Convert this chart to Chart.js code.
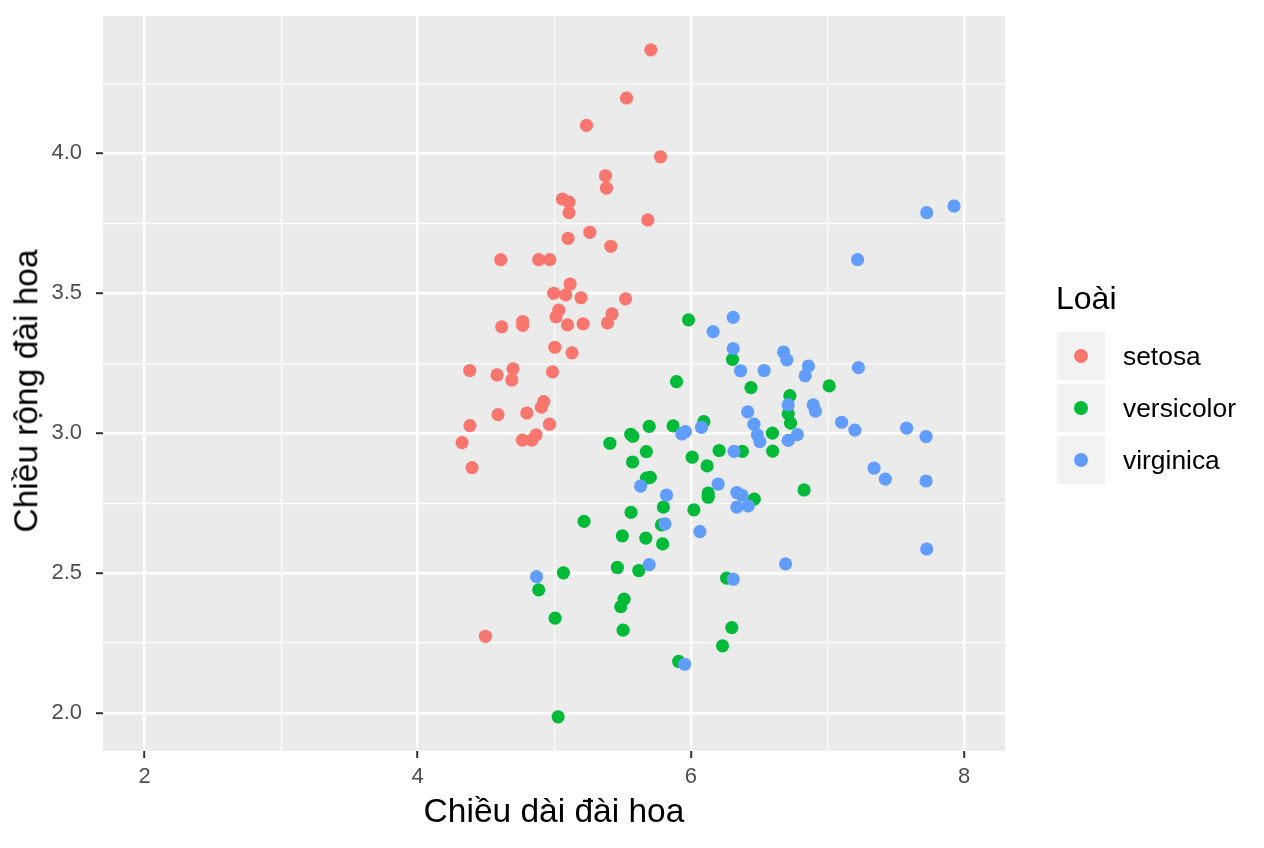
<!DOCTYPE html>
<html lang="vi">
<head>
<meta charset="utf-8">
<title>Chiều dài / chiều rộng đài hoa</title>
<script src="https://cdn.jsdelivr.net/npm/chart.js@4.4.1/dist/chart.umd.min.js"></script>
<style>
  html, body { margin: 0; padding: 0; background: #fff; }
  #wrap { position: relative; width: 1264px; height: 848px; font-family: "Liberation Sans", Arial, Helvetica, sans-serif; }
  #chart { position: absolute; left: 0; top: 0; }
  #ytitle { position: absolute; left: 26px; top: 391px; transform: translate(-50%, -50%) rotate(-90deg);
            white-space: nowrap; font-size: 33.5px; line-height: 1; color: #000; }
  .lg-title { position: absolute; left: 1056px; top: 280px; font-size: 32px; line-height: 36px; color: #000; }
  .lg-row { position: absolute; left: 1057px; height: 48px; display: flex; align-items: center; }
  .lg-key { width: 48px; height: 48px; background: #F2F2F2; display: flex; align-items: center; justify-content: center; }
  .lg-dot { width: 14px; height: 14px; border-radius: 50%; }
  .lg-label { margin-left: 18px; font-size: 26.4px; color: #000; }
</style>
</head>
<body>
<div id="wrap">
  <canvas id="chart" width="1264" height="848"></canvas>
  <div id="ytitle"></div>
  <div id="legend"></div>
</div>
<script>
"use strict";

// ── Colours / fonts ───────────────────────────────────────────────
const RED    = "#F8766D";
const GREEN  = "#00BA38";
const BLUE   = "#619CFF";
const PANEL  = "#EBEBEB";
const TICK_C = "#4D4D4D";
const FONT   = "'Liberation Sans', Arial, Helvetica, sans-serif";

// ── Axes ──────────────────────────────────────────────────────────
const X_MAJOR = [2, 4, 6, 8];
const X_MINOR = [3, 5, 7];
const Y_MAJOR = [2.0, 2.5, 3.0, 3.5, 4.0];
const Y_MINOR = [2.25, 2.75, 3.25, 3.75, 4.25];
const X_MIN = 1.696, X_MAX = 8.30;
const Y_MIN = 1.864, Y_MAX = 4.491;

const X_TITLE = "Chiều dài đài hoa";
const Y_TITLE = "Chiều rộng đài hoa";
const LEGEND_TITLE = "Loài";
const SPECIES = ["setosa", "versicolor", "virginica"];

// ── Data (jittered points) ───────────────────────────────────────
const setosaX = [5.707, 5.529, 5.236, 5.778, 5.375, 5.382, 5.060, 5.108, 5.108, 5.685,
                 5.260, 5.101, 5.414, 4.608, 4.886, 4.967, 5.116, 4.996, 5.084, 5.196,
                 5.522, 5.033, 5.013, 5.097, 5.211, 5.423, 5.390, 4.615, 4.769, 4.769,
                 5.004, 5.130, 4.381, 4.581, 4.698, 4.689, 4.987, 4.923, 4.906, 4.588,
                 4.799, 4.383, 4.965, 4.325, 4.767, 4.835, 4.867, 4.398, 4.496];
const setosaY = [4.370, 4.198, 4.100, 3.988, 3.920, 3.876, 3.837, 3.826, 3.788, 3.762,
                 3.718, 3.696, 3.668, 3.620, 3.620, 3.620, 3.533, 3.500, 3.494, 3.484,
                 3.480, 3.440, 3.416, 3.387, 3.391, 3.426, 3.394, 3.380, 3.399, 3.385,
                 3.307, 3.287, 3.224, 3.208, 3.230, 3.190, 3.219, 3.113, 3.093, 3.066,
                 3.072, 3.027, 3.032, 2.966, 2.975, 2.975, 2.994, 2.877, 2.274];

const versicolorX = [5.983, 5.895, 6.305, 6.440, 7.013, 6.725, 6.713, 6.730, 6.095, 5.870,
                     5.695, 5.560, 5.575, 5.407, 5.674, 5.573, 6.010, 6.119, 6.207, 6.377,
                     6.597, 6.599, 5.675, 5.703, 6.127, 6.127, 6.464, 6.829, 5.799, 6.022,
                     5.562, 5.218, 5.785, 5.498, 5.670, 5.793, 5.462, 5.619, 5.067, 4.886,
                     6.262, 5.511, 5.487, 5.006, 5.504, 6.300, 6.232, 5.911, 5.028];
const versicolorY = [3.405, 3.184, 3.264, 3.163, 3.169, 3.134, 3.069, 3.036, 3.041, 3.026,
                     3.024, 2.996, 2.989, 2.964, 2.934, 2.897, 2.914, 2.883, 2.938, 2.935,
                     3.000, 2.936, 2.839, 2.842, 2.786, 2.771, 2.764, 2.797, 2.736, 2.726,
                     2.717, 2.685, 2.672, 2.633, 2.625, 2.604, 2.520, 2.509, 2.501, 2.440,
                     2.482, 2.407, 2.380, 2.339, 2.296, 2.305, 2.240, 2.184, 1.986];

const virginicaX = [7.727, 7.927, 7.221, 6.310, 6.163, 6.310, 6.679, 6.703, 6.364, 6.536,
                    6.861, 6.837, 7.227, 6.713, 6.896, 6.912, 6.416, 6.462, 6.487, 6.505,
                    6.713, 6.780, 7.104, 7.201, 7.580, 7.722, 7.341, 7.424, 7.722, 7.727,
                    6.078, 5.934, 5.960, 6.316, 6.200, 6.337, 6.374, 6.337, 6.420, 5.632,
                    5.822, 5.811, 6.066, 5.695, 6.694, 6.310, 4.870, 5.955];
const virginicaY = [3.788, 3.812, 3.620, 3.414, 3.363, 3.302, 3.290, 3.262, 3.223, 3.224,
                    3.240, 3.205, 3.234, 3.101, 3.101, 3.079, 3.076, 3.032, 2.994, 2.970,
                    2.974, 2.995, 3.039, 3.011, 3.018, 2.988, 2.875, 2.836, 2.829, 2.586,
                    3.021, 2.997, 3.006, 2.935, 2.818, 2.788, 2.778, 2.736, 2.740, 2.811,
                    2.779, 2.676, 2.648, 2.530, 2.533, 2.478, 2.487, 2.174];

// ── Helpers ───────────────────────────────────────────────────────
const $ = id => document.getElementById(id);
const pairs = (xs, ys) => xs.map((x, i) => ({ x, y: ys[i] }));
const near = (arr, v) => arr.some(a => Math.abs(a - v) < 1e-6);

function gridFor(major) {
  return {
    color: "#FFFFFF",
    lineWidth: ctx => near(major, ctx.tick.value) ? 2.4 : 1.2,
    drawTicks: true,
    tickLength: 7,
    tickWidth: 2,
    tickColor: ctx => near(major, ctx.tick.value) ? "#333333" : "rgba(0,0,0,0)",
  };
}

// panel background
const panelBg = {
  id: "panelBg",
  beforeDraw(chart) {
    const { ctx, chartArea: a } = chart;
    ctx.save();
    ctx.fillStyle = PANEL;
    ctx.fillRect(a.left, a.top, a.right - a.left, a.bottom - a.top);
    ctx.restore();
  }
};

const ds = (label, xs, ys, color, order) => ({
  label, data: pairs(xs, ys), order,
  backgroundColor: color, borderWidth: 0,
  pointRadius: 6.6, pointHoverRadius: 6.6,
});

// ── Chart ─────────────────────────────────────────────────────────
new Chart($("chart"), {
  type: "scatter",
  data: {
    datasets: [
      ds(SPECIES[0], setosaX, setosaY, RED, 2),
      ds(SPECIES[1], versicolorX, versicolorY, GREEN, 1),
      ds(SPECIES[2], virginicaX, virginicaY, BLUE, 0),
    ]
  },
  options: {
    responsive: false,
    animation: false,
    layout: { padding: { left: 0, right: 259, top: 16, bottom: 0 } },
    plugins: { legend: { display: false }, tooltip: { enabled: false } },
    scales: {
      x: {
        type: "linear", min: X_MIN, max: X_MAX,
        afterBuildTicks: s => { s.ticks = [...X_MAJOR, ...X_MINOR].sort((a, b) => a - b).map(v => ({ value: v })); },
        afterFit: s => { s.height = 97; },
        border: { display: false },
        grid: gridFor(X_MAJOR),
        ticks: {
          autoSkip: false, maxRotation: 0, padding: 6, color: TICK_C,
          font: { family: FONT, size: 22 },
          callback: v => near(X_MAJOR, v) ? String(v) : ""
        },
        title: { display: true, text: X_TITLE, color: "#000", font: { family: FONT, size: 33.5 }, padding: { top: 0, bottom: 15 } }
      },
      y: {
        type: "linear", min: Y_MIN, max: Y_MAX,
        afterBuildTicks: s => { s.ticks = [...Y_MAJOR, ...Y_MINOR].sort((a, b) => a - b).map(v => ({ value: v })); },
        // fixed width, and no extra top/bottom room for the end labels
        afterFit: s => { s.width = 103; s.paddingTop = 0; s.paddingBottom = 0; },
        border: { display: false },
        grid: gridFor(Y_MAJOR),
        ticks: {
          autoSkip: false, padding: 14, color: TICK_C,
          font: { family: FONT, size: 22 },
          callback: v => near(Y_MAJOR, v) ? v.toFixed(1) : ""
        },
        title: { display: false }
      }
    }
  },
  plugins: [panelBg]
});

// ── Y title + legend (HTML) ───────────────────────────────────────
$("ytitle").textContent = Y_TITLE;

const LEGEND_COLORS = [RED, GREEN, BLUE];
const ROW_TOPS = [332, 384, 436];
$("legend").innerHTML =
  `<div class="lg-title">${LEGEND_TITLE}</div>` +
  SPECIES.map((name, i) => `
    <div class="lg-row" style="top:${ROW_TOPS[i]}px">
      <div class="lg-key"><div class="lg-dot" style="background:${LEGEND_COLORS[i]}"></div></div>
      <div class="lg-label">${name}</div>
    </div>`).join("");
</script>
</body>
</html>
